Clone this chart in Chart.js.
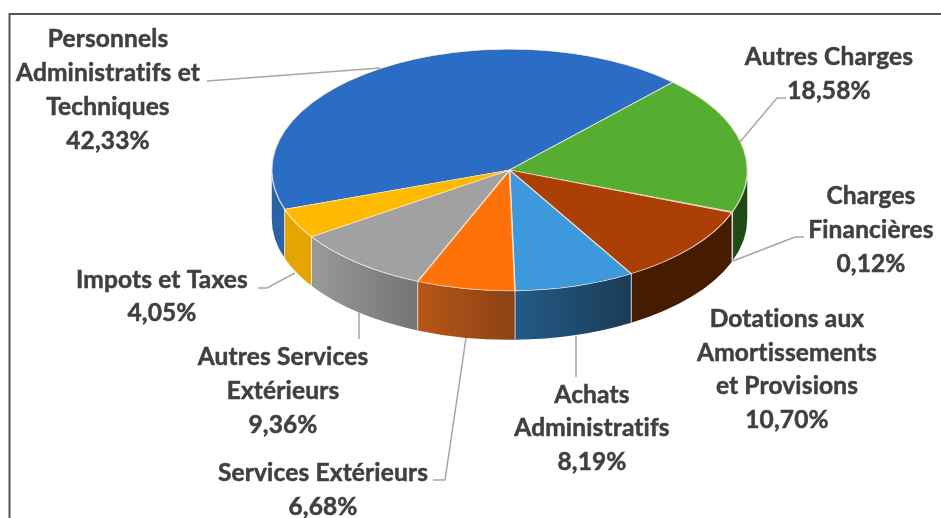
<!DOCTYPE html>
<html>
<head>
<meta charset="utf-8">
<title>Charges</title>
<script src="https://cdn.jsdelivr.net/npm/chart.js@4/dist/chart.umd.min.js"></script>
<style>
  html, body { margin: 0; padding: 0; background: #fff; }
  canvas { display: block; }
</style>
</head>
<body>
<canvas id="pie3d" width="941" height="518"></canvas>
<script>
const categories = [
  "Personnels Administratifs et Techniques",
  "Autres Charges",
  "Charges Financières",
  "Dotations aux Amortissements et Provisions",
  "Achats Administratifs",
  "Services Extérieurs",
  "Autres Services Extérieurs",
  "Impots et Taxes",
];
const shares = [42.33, 18.58, 0.12, 10.7, 8.19, 6.68, 9.36, 4.05];
const shareLabels = ["42,33%", "18,58%", "0,12%", "10,70%", "8,19%", "6,68%", "9,36%", "4,05%"];
const labelLines = [
  ["Personnels", "Administratifs et", "Techniques"],
  ["Autres Charges"],
  ["Charges", "Financières"],
  ["Dotations aux", "Amortissements", "et Provisions"],
  ["Achats", "Administratifs"],
  ["Services Extérieurs"],
  ["Autres Services", "Extérieurs"],
  ["Impots et Taxes"],
];
const topColors = ["#2b6cc4", "#55ae32", "#7a3a10", "#ab3f05", "#3d98dc", "#ff7209", "#a1a1a1", "#ffb900"];
// left and right colour of each slice's outer wall
const wallColors = [
  ["#2a62a8", "#2a62a8"], ["#1f4a17", "#1f4a17"], ["#461c00", "#461c00"], ["#461c00", "#461c00"],
  ["#225a88", "#1c3c55"], ["#b85616", "#8a4216"], ["#9a9a9a", "#737373"], ["#e5a500", "#e5a500"],
];
// label centre x, first line y, line height
const labelSpots = [
  [108, 39, 34], [829, 57, 34], [871, 196, 34], [787, 319, 33.7],
  [592, 395, 33.5], [323, 473, 34], [283, 357, 34], [162, 280, 33],
];
const leaders = [
  [[207, 81], [380, 68]],
  [[786, 98], [777, 98], [740, 142]],
  [[804, 237], [795, 237], [733, 261]],
  [[576, 336], [576, 377]],
  [[466, 338], [445, 480], [433, 480]],
  [[359, 312], [359, 339]],
  [[295, 273], [267, 288], [258, 288]],
];

const TILT = 0.508;
const DEPTH = 49;
const TOP_Y = 170;

const pie3d = {
  id: "pie3d",
  beforeDatasetsDraw(chart) {
    const ctx = chart.ctx;
    const arcs = chart.getDatasetMeta(0).data;
    const cx = arcs[0].x;
    const r = arcs[0].outerRadius;
    arcs.forEach((arc, i) => {
      [0, Math.PI * 2].forEach((k) => {
        const lo = Math.max(arc.startAngle, k);
        const hi = Math.min(arc.endAngle, k + Math.PI);
        if (hi <= lo) return;
        const x0 = cx + r * Math.cos(lo);
        const x1 = cx + r * Math.cos(hi);
        const grad = ctx.createLinearGradient(Math.min(x0, x1), 0, Math.max(x0, x1), 0);
        grad.addColorStop(0, wallColors[i][0]);
        grad.addColorStop(1, wallColors[i][1]);
        ctx.beginPath();
        ctx.ellipse(cx, TOP_Y, r, r * TILT, 0, lo, hi);
        ctx.ellipse(cx, TOP_Y + DEPTH, r, r * TILT, 0, hi, lo, true);
        ctx.closePath();
        ctx.fillStyle = grad;
        ctx.fill();
        ctx.strokeStyle = "rgba(255,255,255,0.55)";
        ctx.lineWidth = 1;
        [lo === arc.startAngle ? lo : null, hi === arc.endAngle ? hi : null].forEach((a) => {
          if (a === null) return;
          const x = cx + r * Math.cos(a);
          const y = TOP_Y + r * TILT * Math.sin(a);
          ctx.beginPath();
          ctx.moveTo(x, y);
          ctx.lineTo(x, y + DEPTH);
          ctx.stroke();
        });
      });
    });
    // squash the library's round pie into the tilted top face
    ctx.save();
    ctx.translate(0, TOP_Y);
    ctx.scale(1, TILT);
    ctx.translate(0, -arcs[0].y);
  },
  afterDatasetsDraw(chart) {
    chart.ctx.restore();
  },
  afterDraw(chart) {
    const ctx = chart.ctx;
    ctx.save();
    ctx.strokeStyle = "#555555";
    ctx.lineWidth = 2;
    ctx.beginPath();
    ctx.moveTo(9.5, 518);
    ctx.lineTo(9.5, 14);
    ctx.lineTo(941, 14);
    ctx.stroke();

    ctx.strokeStyle = "#a6a6a6";
    ctx.lineWidth = 1.5;
    leaders.forEach((pts) => {
      ctx.beginPath();
      pts.forEach((p, i) => (i ? ctx.lineTo(p[0], p[1]) : ctx.moveTo(p[0], p[1])));
      ctx.stroke();
    });

    ctx.fillStyle = "#404040";
    ctx.strokeStyle = "#404040";
    ctx.lineWidth = 0.5;
    ctx.font = "bold 24.5px Lato";
    ctx.letterSpacing = "0.15px"; // also stops the ti ligature
    ctx.textAlign = "center";
    ctx.textBaseline = "middle";
    categories.forEach((c, i) => {
      const [x, y, lh] = labelSpots[i];
      labelLines[i].concat(shareLabels[i]).forEach((line, n) => {
        ctx.fillText(line, x, y + n * lh);
        ctx.strokeText(line, x, y + n * lh);
      });
    });
    ctx.restore();
  },
};

new Chart(document.getElementById("pie3d").getContext("2d"), {
  type: "pie",
  data: {
    labels: categories,
    datasets: [
      {
        data: shares,
        backgroundColor: topColors,
        borderColor: "rgba(255,240,225,0.75)",
        borderWidth: 1.5,
        clip: false,
      },
    ],
  },
  options: {
    responsive: false,
    animation: false,
    rotation: 251,
    layout: {
      padding: { left: 271, right: 193, top: 20, bottom: 20 },
    },
    plugins: {
      legend: { display: false },
      tooltip: { enabled: true },
    },
  },
  plugins: [pie3d],
});
</script>
</body>
</html>
